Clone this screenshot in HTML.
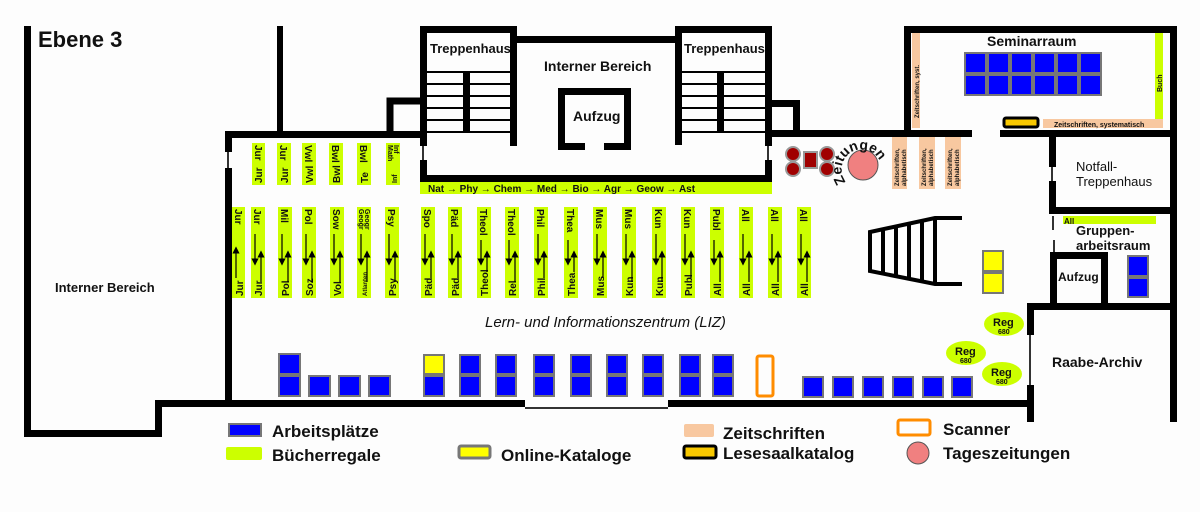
<!DOCTYPE html>
<html><head><meta charset="utf-8"><style>
html,body{margin:0;padding:0;background:#fdfdfd}
svg{display:block}
text{font-family:"Liberation Sans",sans-serif;font-weight:bold;fill:#111}
.s{font-size:10px}
.sh{fill:#ccff00}
.w{fill:#000}
.bl{fill:#0000ff;stroke:#777;stroke-width:2}
.pe{fill:#f8c8a0}
</style></head><body>
<svg width="1200" height="512" viewBox="0 0 1200 512" xmlns="http://www.w3.org/2000/svg">
<defs>
<marker id="a" markerWidth="6" markerHeight="6" refX="3" refY="3" orient="auto"><path d="M0,0 L6,3 L0,6z" fill="#000"/></marker>
</defs>
<rect width="1200" height="512" fill="#fdfdfd"/>
<text x="38" y="47" style="font-size:22px">Ebene 3</text>
<rect class="w" x="24" y="26" width="7" height="411"/>
<rect class="w" x="24" y="430" width="138" height="7"/>
<rect class="w" x="155" y="400" width="7" height="37"/>
<rect class="w" x="155" y="400" width="370" height="7"/>
<rect x="525" y="407" width="143" height="2" fill="#333"/>
<rect class="w" x="668" y="400" width="366" height="7"/>
<rect class="w" x="277" y="26" width="6" height="111"/>
<text x="55" y="292" style="font-size:13px">Interner Bereich</text>
<rect class="w" x="225" y="131" width="195" height="7"/>
<rect class="w" x="225" y="131" width="7" height="21"/>
<rect x="227" y="152" width="2" height="16" fill="#333"/>
<rect class="w" x="225" y="168" width="7" height="239"/>
<path d="M390,137 V101 H420" fill="none" stroke="#000" stroke-width="7"/>
<rect class="w" x="420" y="26" width="97" height="7"/>
<rect class="w" x="420" y="26" width="7" height="120"/>
<rect x="422" y="146" width="2" height="14" fill="#333"/>
<rect class="w" x="420" y="160" width="7" height="22"/>
<rect class="w" x="510" y="26" width="7" height="120"/>
<rect class="w" x="463" y="72" width="7" height="60"/>
<g stroke="#000" stroke-width="2"><line x1="427" y1="72" x2="510" y2="72"/><line x1="427" y1="84" x2="510" y2="84"/><line x1="427" y1="96" x2="510" y2="96"/><line x1="427" y1="108" x2="510" y2="108"/><line x1="427" y1="120" x2="510" y2="120"/><line x1="427" y1="132" x2="510" y2="132"/></g>
<text x="430" y="53" style="font-size:13px">Treppenhaus</text>
<rect class="w" x="517" y="36" width="158" height="7"/>
<text x="544" y="71" style="font-size:14px">Interner Bereich</text>
<path d="M585,146.5 H561.5 V91.5 H627.5 V146.5 H604" fill="none" stroke="#000" stroke-width="7"/>
<text x="573" y="121" style="font-size:14px">Aufzug</text>
<rect class="w" x="675" y="26" width="97" height="7"/>
<rect class="w" x="675" y="26" width="7" height="119"/>
<rect class="w" x="765" y="26" width="7" height="120"/>
<rect x="767" y="146" width="2" height="14" fill="#333"/>
<rect class="w" x="765" y="160" width="7" height="22"/>
<rect class="w" x="717" y="72" width="7" height="60"/>
<g stroke="#000" stroke-width="2"><line x1="682" y1="72" x2="765" y2="72"/><line x1="682" y1="84" x2="765" y2="84"/><line x1="682" y1="96" x2="765" y2="96"/><line x1="682" y1="108" x2="765" y2="108"/><line x1="682" y1="120" x2="765" y2="120"/><line x1="682" y1="132" x2="765" y2="132"/></g>
<text x="684" y="53" style="font-size:13px">Treppenhaus</text>
<rect class="w" x="420" y="175" width="352" height="7"/>
<rect class="sh" x="420" y="182" width="352" height="12"/>
<text x="428" y="192" class="s">Nat → Phy → Chem → Med → Bio → Agr → Geow → Ast</text>
<path d="M772,103.5 H796.5 V137" fill="none" stroke="#000" stroke-width="7"/>
<rect class="w" x="772" y="130" width="200" height="7"/>
<rect class="w" x="904" y="26" width="273" height="7"/>
<rect class="w" x="904" y="26" width="7" height="111"/>
<rect class="w" x="1170" y="26" width="7" height="396"/>
<rect class="pe" x="912" y="33" width="8" height="95"/>
<text transform="translate(919,118) rotate(-90)" style="font-size:6px">Zeitschriften, syst.</text>
<rect class="sh" x="1155" y="33" width="8" height="86"/>
<text transform="translate(1162,92) rotate(-90)" style="font-size:7px">Buch</text>
<text x="987" y="46" style="font-size:14px">Seminarraum</text>
<g class="bl">
<rect x="965" y="53" width="21" height="20"/><rect x="988" y="53" width="21" height="20"/><rect x="1011" y="53" width="21" height="20"/><rect x="1034" y="53" width="21" height="20"/><rect x="1057" y="53" width="21" height="20"/><rect x="1080" y="53" width="21" height="20"/>
<rect x="965" y="75" width="21" height="20"/><rect x="988" y="75" width="21" height="20"/><rect x="1011" y="75" width="21" height="20"/><rect x="1034" y="75" width="21" height="20"/><rect x="1057" y="75" width="21" height="20"/><rect x="1080" y="75" width="21" height="20"/>
</g>
<rect x="1004" y="118" width="34" height="9" rx="2" fill="#f8c800" stroke="#000" stroke-width="3"/>
<rect class="pe" x="1043" y="119" width="120" height="9"/>
<text x="1054" y="127" style="font-size:7px">Zeitschriften, systematisch</text>
<rect class="w" x="1000" y="130" width="177" height="7"/>
<rect class="w" x="1049" y="137" width="7" height="30"/>
<rect x="1051" y="167" width="2" height="14" fill="#333"/>
<rect class="w" x="1049" y="181" width="7" height="33"/>
<rect class="w" x="1049" y="207" width="128" height="7"/>
<text x="1076" y="171" style="font-size:13px;font-weight:normal">Notfall-</text>
<text x="1076" y="186" style="font-size:13px;font-weight:normal">Treppenhaus</text>
<rect class="sh" x="1063" y="216" width="93" height="8"/>
<text x="1064" y="224" style="font-size:8px">All</text>
<text x="1076" y="235" style="font-size:13px">Gruppen-</text>
<text x="1076" y="250" style="font-size:13px">arbeitsraum</text>
<rect x="1052" y="216" width="2" height="14" fill="#333"/>
<rect x="1053" y="240" width="2" height="12" fill="#333"/>
<path d="M1053.5,303 V255.5 H1104.5 V303" fill="none" stroke="#000" stroke-width="7"/>
<text x="1058" y="281" style="font-size:12px">Aufzug</text>
<rect class="bl" x="1128" y="256" width="20" height="20"/><rect class="bl" x="1128" y="278" width="20" height="19"/>
<rect class="w" x="1027" y="303" width="150" height="7"/>
<rect class="w" x="1027" y="303" width="7" height="32"/>
<rect x="1029" y="335" width="2" height="53" fill="#333"/>
<rect class="w" x="1027" y="385" width="7" height="37"/>
<text x="1052" y="367" style="font-size:14px">Raabe-Archiv</text>
<g fill="#a00000" stroke="#999" stroke-width="2">
<circle cx="793" cy="154" r="7"/><circle cx="793" cy="169" r="7"/><circle cx="827" cy="154" r="7"/><circle cx="827" cy="169" r="7"/>
<rect x="804" y="152" width="13" height="16"/>
</g>
<circle cx="863" cy="165" r="15" fill="#f08080" stroke="#555" stroke-width="1"/>
<path id="zp" d="M846,182 A20,20 0 1 1 878,181" fill="none"/>
<text style="font-size:14px"><textPath href="#zp">Zeitungen</textPath></text>
<rect class="pe" x="892" y="137" width="15" height="52"/>
<rect class="pe" x="919" y="137" width="16" height="52"/>
<rect class="pe" x="945" y="137" width="16" height="52"/>
<g style="font-size:6px">
<text transform="translate(899,186) rotate(-90)">Zeitschriften,</text><text transform="translate(906,186) rotate(-90)">alphabetisch</text>
<text transform="translate(926,186) rotate(-90)">Zeitschriften,</text><text transform="translate(933,186) rotate(-90)">alphabetisch</text>
<text transform="translate(952,186) rotate(-90)">Zeitschriften,</text><text transform="translate(959,186) rotate(-90)">alphabetisch</text>
</g>
<g fill="none" stroke="#000" stroke-width="4">
<path d="M962,218 H935 L870,232 V271 L935,284 H962"/>
<line x1="883" y1="229" x2="883" y2="274"/><line x1="896" y1="226" x2="896" y2="276"/><line x1="909" y1="223" x2="909" y2="279"/><line x1="922" y1="221" x2="922" y2="281"/><line x1="935" y1="218" x2="935" y2="284"/>
</g>
<rect x="983" y="251" width="20" height="20" fill="#ffff00" stroke="#777" stroke-width="2"/>
<rect x="983" y="273" width="20" height="20" fill="#ffff00" stroke="#777" stroke-width="2"/>
<g fill="#ccff00"><ellipse cx="1004" cy="324" rx="20" ry="12"/><ellipse cx="966" cy="353" rx="20" ry="12"/><ellipse cx="1002" cy="374" rx="20" ry="12"/></g>
<g style="font-size:11px"><text x="993" y="326">Reg</text><text x="955" y="355">Reg</text><text x="991" y="376">Reg</text></g>
<g style="font-size:7px"><text x="998" y="334">680</text><text x="960" y="363">680</text><text x="996" y="384">680</text></g>
<text x="485" y="327" style="font-size:15px;font-weight:normal;font-style:italic">Lern- und Informationszentrum (LIZ)</text>
<g class="sh"><rect x="252" y="143" width="13" height="42"/><rect x="277" y="143" width="14" height="42"/><rect x="302" y="143" width="14" height="42"/><rect x="329" y="143" width="14" height="42"/><rect x="357" y="143" width="14" height="42"/><rect x="386" y="143" width="14" height="42"/></g>
<g class="s">
<text transform="translate(255,145) rotate(90)">Jur</text><text transform="translate(262,183) rotate(-90)">Jur</text>
<text transform="translate(280,145) rotate(90)">Jur</text><text transform="translate(288,183) rotate(-90)">Jur</text>
<text transform="translate(305,145) rotate(90)">Vwl</text><text transform="translate(313,183) rotate(-90)">Vwl</text>
<text transform="translate(332,145) rotate(90)">Bwl</text><text transform="translate(340,183) rotate(-90)">Bwl</text>
<text transform="translate(360,145) rotate(90)">Bwl</text><text transform="translate(368,183) rotate(-90)">Te</text>
<text transform="translate(388,145) rotate(90)" style="font-size:7px">Math</text><text transform="translate(394,145) rotate(90)" style="font-size:7px">Inf</text><text transform="translate(397,183) rotate(-90)" style="font-size:7px">Inf</text>
</g>
<g class="sh">
<rect x="232" y="207" width="13" height="91"/><rect x="251" y="207" width="14" height="91"/><rect x="278" y="207" width="14" height="91"/><rect x="302" y="207" width="14" height="91"/><rect x="330" y="207" width="14" height="91"/><rect x="357" y="207" width="14" height="91"/><rect x="385" y="207" width="14" height="91"/>
<rect x="421" y="207" width="14" height="91"/><rect x="448" y="207" width="14" height="91"/><rect x="477" y="207" width="14" height="91"/><rect x="505" y="207" width="14" height="91"/><rect x="534" y="207" width="14" height="91"/><rect x="564" y="207" width="14" height="91"/><rect x="593" y="207" width="14" height="91"/><rect x="622" y="207" width="14" height="91"/><rect x="652" y="207" width="14" height="91"/><rect x="681" y="207" width="14" height="91"/><rect x="710" y="207" width="14" height="91"/><rect x="739" y="207" width="14" height="91"/><rect x="768" y="207" width="14" height="91"/><rect x="797" y="207" width="14" height="91"/>
</g>
<g class="s">
<text transform="translate(235,209) rotate(90)">Jur</text><text transform="translate(243,296) rotate(-90)">Jur</text>
<text transform="translate(254,209) rotate(90)">Jur</text><text transform="translate(262,296) rotate(-90)">Jur</text>
<text transform="translate(281,209) rotate(90)">Mil</text><text transform="translate(289,296) rotate(-90)">Pol</text>
<text transform="translate(305,209) rotate(90)">Pol</text><text transform="translate(313,296) rotate(-90)">Soz</text>
<text transform="translate(333,209) rotate(90)">Sow</text><text transform="translate(341,296) rotate(-90)">Vol</text>
<text transform="translate(359,209) rotate(90)" style="font-size:7px">Geogr</text><text transform="translate(365,209) rotate(90)" style="font-size:7px">Geogr</text><text transform="translate(367,296) rotate(-90)" style="font-size:6px">Atlanten</text>
<text transform="translate(388,209) rotate(90)">Psy</text><text transform="translate(396,296) rotate(-90)">Psy</text>
<text transform="translate(424,209) rotate(90)">Spo</text><text transform="translate(432,296) rotate(-90)">Päd</text>
<text transform="translate(451,209) rotate(90)">Päd</text><text transform="translate(459,296) rotate(-90)">Päd</text>
<text transform="translate(480,209) rotate(90)">Theol</text><text transform="translate(488,296) rotate(-90)">Theol</text>
<text transform="translate(508,209) rotate(90)">Theol</text><text transform="translate(516,296) rotate(-90)">Rel</text>
<text transform="translate(537,209) rotate(90)">Phil</text><text transform="translate(545,296) rotate(-90)">Phil</text>
<text transform="translate(567,209) rotate(90)">Thea</text><text transform="translate(575,296) rotate(-90)">Thea</text>
<text transform="translate(596,209) rotate(90)">Mus</text><text transform="translate(604,296) rotate(-90)">Mus</text>
<text transform="translate(625,209) rotate(90)">Mus</text><text transform="translate(633,296) rotate(-90)">Kun</text>
<text transform="translate(655,209) rotate(90)">Kun</text><text transform="translate(663,296) rotate(-90)">Kun</text>
<text transform="translate(684,209) rotate(90)">Kun</text><text transform="translate(692,296) rotate(-90)">Publ</text>
<text transform="translate(713,209) rotate(90)">Publ</text><text transform="translate(721,296) rotate(-90)">All</text>
<text transform="translate(742,209) rotate(90)">All</text><text transform="translate(750,296) rotate(-90)">All</text>
<text transform="translate(771,209) rotate(90)">All</text><text transform="translate(779,296) rotate(-90)">All</text>
<text transform="translate(800,209) rotate(90)">All</text><text transform="translate(808,296) rotate(-90)">All</text>
</g>
<g stroke="#000" stroke-width="1.2" marker-end="url(#a)">
<line x1="236" y1="278" x2="236" y2="250"/>
<line x1="255" y1="234" x2="255" y2="262"/><line x1="261" y1="282" x2="261" y2="254"/>
<line x1="282" y1="234" x2="282" y2="262"/><line x1="288" y1="282" x2="288" y2="254"/>
<line x1="306" y1="234" x2="306" y2="262"/><line x1="312" y1="282" x2="312" y2="254"/>
<line x1="334" y1="234" x2="334" y2="262"/><line x1="340" y1="282" x2="340" y2="254"/>
<line x1="361" y1="234" x2="361" y2="262"/><line x1="367" y1="282" x2="367" y2="254"/>
<line x1="389" y1="234" x2="389" y2="262"/><line x1="395" y1="282" x2="395" y2="254"/>
<line x1="425" y1="234" x2="425" y2="262"/><line x1="431" y1="278" x2="431" y2="254"/>
<line x1="452" y1="234" x2="452" y2="262"/><line x1="458" y1="278" x2="458" y2="254"/>
<line x1="481" y1="240" x2="481" y2="262"/><line x1="487" y1="272" x2="487" y2="254"/>
<line x1="509" y1="240" x2="509" y2="262"/><line x1="515" y1="282" x2="515" y2="254"/>
<line x1="538" y1="234" x2="538" y2="262"/><line x1="544" y1="278" x2="544" y2="254"/>
<line x1="568" y1="240" x2="568" y2="262"/><line x1="574" y1="272" x2="574" y2="254"/>
<line x1="597" y1="234" x2="597" y2="262"/><line x1="603" y1="278" x2="603" y2="254"/>
<line x1="626" y1="234" x2="626" y2="262"/><line x1="632" y1="282" x2="632" y2="254"/>
<line x1="656" y1="234" x2="656" y2="262"/><line x1="662" y1="282" x2="662" y2="254"/>
<line x1="685" y1="234" x2="685" y2="262"/><line x1="691" y1="278" x2="691" y2="254"/>
<line x1="714" y1="240" x2="714" y2="262"/><line x1="720" y1="282" x2="720" y2="254"/>
<line x1="743" y1="234" x2="743" y2="262"/><line x1="749" y1="282" x2="749" y2="254"/>
<line x1="772" y1="234" x2="772" y2="262"/><line x1="778" y1="282" x2="778" y2="254"/>
<line x1="801" y1="234" x2="801" y2="262"/><line x1="807" y1="282" x2="807" y2="254"/>
</g>
<g class="bl">
<rect x="279" y="354" width="21" height="20"/><rect x="279" y="376" width="21" height="20"/>
<rect x="309" y="376" width="21" height="20"/><rect x="339" y="376" width="21" height="20"/><rect x="369" y="376" width="21" height="20"/>
<rect x="424" y="376" width="20" height="20"/>
<rect x="460" y="355" width="20" height="19"/><rect x="460" y="376" width="20" height="20"/>
<rect x="496" y="355" width="20" height="19"/><rect x="496" y="376" width="20" height="20"/>
<rect x="534" y="355" width="20" height="19"/><rect x="534" y="376" width="20" height="20"/>
<rect x="571" y="355" width="20" height="19"/><rect x="571" y="376" width="20" height="20"/>
<rect x="607" y="355" width="20" height="19"/><rect x="607" y="376" width="20" height="20"/>
<rect x="643" y="355" width="20" height="19"/><rect x="643" y="376" width="20" height="20"/>
<rect x="680" y="355" width="20" height="19"/><rect x="680" y="376" width="20" height="20"/>
<rect x="713" y="355" width="20" height="19"/><rect x="713" y="376" width="20" height="20"/>
<rect x="803" y="377" width="20" height="20"/><rect x="833" y="377" width="20" height="20"/><rect x="863" y="377" width="20" height="20"/><rect x="893" y="377" width="20" height="20"/><rect x="923" y="377" width="20" height="20"/><rect x="952" y="377" width="20" height="20"/>
</g>
<rect x="424" y="355" width="20" height="19" fill="#ffff00" stroke="#777" stroke-width="2"/>
<rect x="757" y="356" width="16" height="40" rx="2" fill="none" stroke="#ff8c00" stroke-width="3"/>
<rect class="bl" x="229" y="424" width="32" height="12"/>
<text x="272" y="437" style="font-size:17px">Arbeitsplätze</text>
<rect x="226" y="447" width="36" height="13" rx="2" fill="#ccff00"/>
<text x="272" y="461" style="font-size:17px">Bücherregale</text>
<rect x="459" y="446" width="31" height="12" rx="2" fill="#ffff00" stroke="#777" stroke-width="3"/>
<text x="501" y="461" style="font-size:17px">Online-Kataloge</text>
<rect x="684" y="424" width="30" height="13" rx="2" fill="#f8c8a0"/>
<text x="723" y="439" style="font-size:17px">Zeitschriften</text>
<rect x="684" y="446" width="32" height="12" rx="2" fill="#f8c800" stroke="#000" stroke-width="3"/>
<text x="723" y="459" style="font-size:17px">Lesesaalkatalog</text>
<rect x="898" y="420" width="32" height="15" rx="2" fill="none" stroke="#ff8c00" stroke-width="3"/>
<text x="943" y="435" style="font-size:17px">Scanner</text>
<circle cx="918" cy="453" r="11" fill="#f08080" stroke="#555" stroke-width="1"/>
<text x="943" y="459" style="font-size:17px">Tageszeitungen</text>
</svg>
</body></html>
